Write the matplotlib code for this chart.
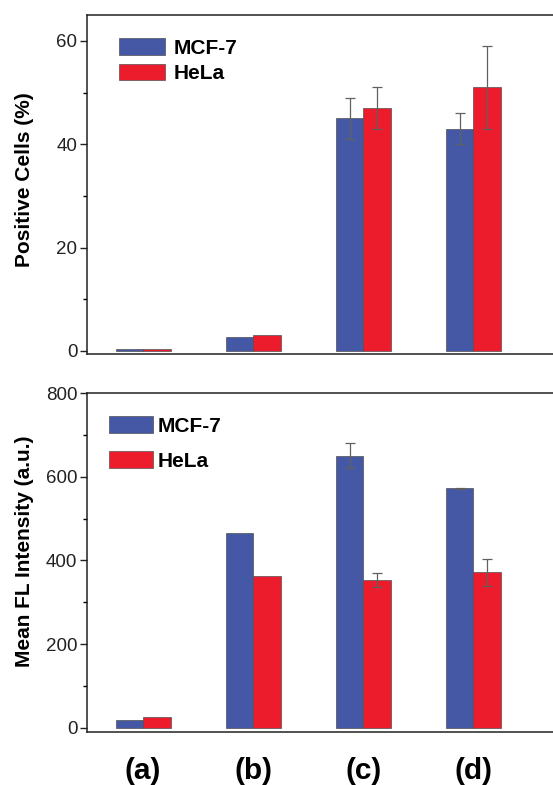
"""
Positive cells and mean FL intensity for MCF-7 and HeLa, two stacked bar panels.
"""

import numpy as np
import matplotlib
matplotlib.use("Agg")
import matplotlib.pyplot as plt
from matplotlib.ticker import MultipleLocator

plt.rcParams['font.family'] = ['Liberation Sans', 'DejaVu Sans']

groups = ['(a)', '(b)', '(c)', '(d)']
series = ['MCF-7', 'HeLa']

pos_mcf7 = [0.45, 2.7, 45.0, 43.0]
pos_mcf7_err = [0, 0, 4.0, 3.0]
pos_hela = [0.3, 3.0, 47.0, 51.0]
pos_hela_err = [0, 0, 4.0, 8.0]

fl_mcf7 = [18, 466, 650, 572]
fl_mcf7_err = [0, 0, 30, 1]
fl_hela = [27, 363, 353, 372]
fl_hela_err = [0, 0, 16, 32]

BLUE = '#4558a5'
RED = '#ec1c2c'


def draw_panel(ax, mcf7, mcf7_err, hela, hela_err, ylim, major, minor, ylabel):
    """
    畫一個面板的成對長條圖。
    """
    x = np.arange(1, len(groups) + 1)
    w = 0.25
    err_kw = dict(ecolor='#606060', elinewidth=0.9, capsize=3.5, capthick=0.9)
    ax.bar(x - w / 2, mcf7, w, color=BLUE, edgecolor='#505050', linewidth=0.5,
           label=series[0], zorder=2)
    ax.bar(x + w / 2, hela, w, color=RED, edgecolor='#505050', linewidth=0.5,
           label=series[1], zorder=2)
    for xs, vals, errs in ((x - w / 2, mcf7, mcf7_err), (x + w / 2, hela, hela_err)):
        for xi, v, e in zip(xs, vals, errs):
            if e > 0:
                ax.errorbar(xi, v, yerr=e, fmt='none', zorder=3, **err_kw)

    ax.set_xlim(0.49, 4.76)
    ax.set_ylim(*ylim)
    ax.yaxis.set_major_locator(MultipleLocator(major))
    ax.yaxis.set_minor_locator(MultipleLocator(minor))
    ax.tick_params(axis='y', which='major', direction='out', length=5, width=1,
                   labelsize=13.5, colors='#222222', pad=2)
    ax.tick_params(axis='y', which='minor', direction='out', length=3, width=1)
    ax.tick_params(axis='x', length=0)
    ax.set_ylabel(ylabel, fontsize=15, fontweight='bold')
    for s in ax.spines.values():
        s.set_linewidth(1.1)
        s.set_color('#222222')


fig = plt.figure(figsize=(5.53, 7.85), dpi=100)
ax1 = fig.add_axes([87 / 553, 1 - 354 / 785, 470 / 553, 339 / 785])
ax2 = fig.add_axes([87 / 553, 1 - 732 / 785, 470 / 553, 339 / 785])

draw_panel(ax1, pos_mcf7, pos_mcf7_err, pos_hela, pos_hela_err,
           (-0.6, 65), 20, 10, 'Positive Cells (%)')
ax1.set_xticks([])
ax1.legend(loc='upper left', bbox_to_anchor=(0.068, 0.932), frameon=False,
           prop={'weight': 'bold', 'size': 15}, handlelength=2.2,
           handleheight=0.85, handletextpad=0.4, labelspacing=0.3,
           borderaxespad=0, borderpad=0)

draw_panel(ax2, fl_mcf7, fl_mcf7_err, fl_hela, fl_hela_err,
           (-10, 800), 200, 100, 'Mean FL Intensity (a.u.)')
ax2.set_xticks(np.arange(1, len(groups) + 1))
ax2.set_xticklabels(groups, fontsize=21.5, fontweight='bold')
ax2.tick_params(axis='x', pad=18)
ax2.legend(loc='upper left', bbox_to_anchor=(0.047, 0.932), frameon=False,
           prop={'weight': 'bold', 'size': 15}, handlelength=2.1,
           handleheight=0.85, handletextpad=0.25, labelspacing=0.75,
           borderaxespad=0, borderpad=0)

ax1.yaxis.set_label_coords(-0.113, 0.513)
ax2.yaxis.set_label_coords(-0.113, 0.532)

fig.savefig('out.png', dpi=100)
